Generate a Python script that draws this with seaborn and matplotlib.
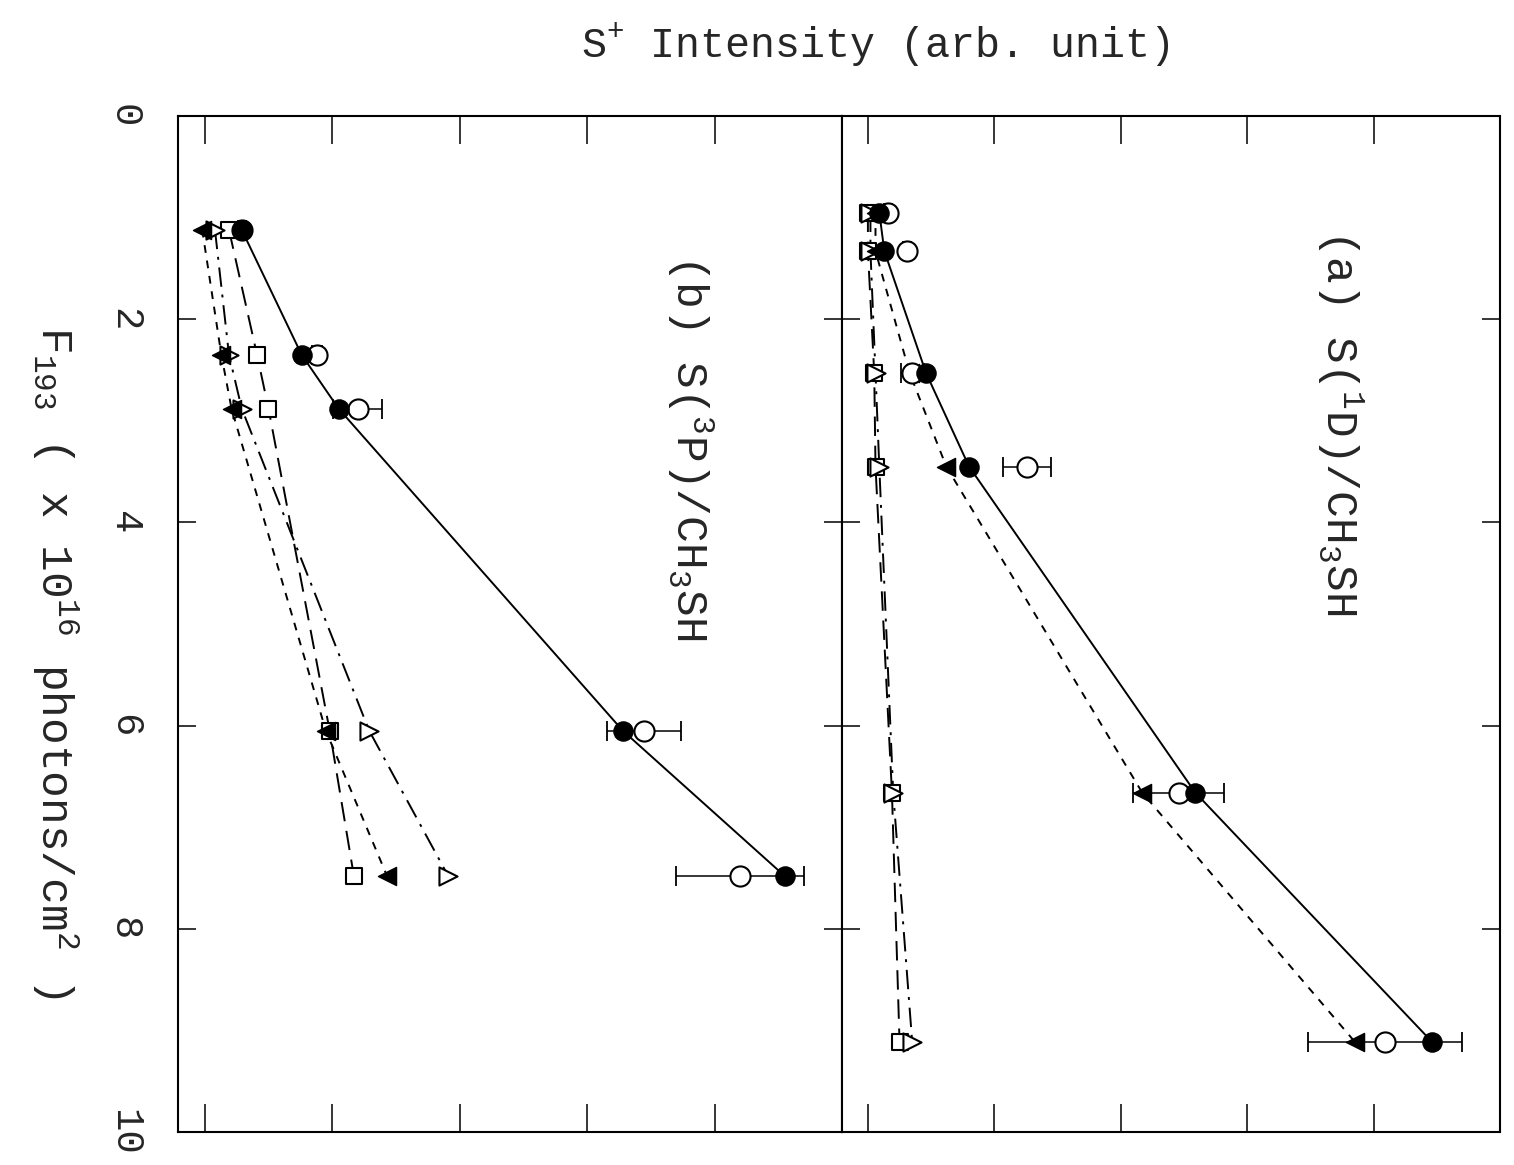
import numpy as np
import matplotlib
matplotlib.use("Agg")
import matplotlib.pyplot as plt
import seaborn as sns

# ---- data -------------------------------------------------------------
# panel (a): S(1D) / CH3SH
F_a = [0.95, 1.33, 2.53, 3.45, 6.66, 9.11]
a_filled_circle = [0.09, 0.13, 0.46, 0.80, 2.59, 4.46]
a_open_circle = [0.16, 0.31, 0.35, 1.26, 2.46, 4.09]
a_open_circle_err = [0.03, 0.03, 0.09, 0.19, 0.36, 0.61]
a_filled_tri = [0.06, 0.06, 0.33, 0.62, 2.17, 3.85]
a_open_tri = [0.02, 0.02, 0.06, 0.09, 0.20, 0.35]
a_square = [0.00, 0.00, 0.05, 0.06, 0.19, 0.25]

# panel (b): S(3P) / CH3SH
F_b = [1.12, 2.35, 2.88, 6.05, 7.48]
b_filled_circle = [0.29, 0.76, 1.05, 3.28, 4.55]
b_open_circle = [0.29, 0.88, 1.20, 3.45, 4.20]
b_open_circle_err = [0.03, 0.04, 0.19, 0.29, 0.50]
b_filled_tri = [-0.02, 0.13, 0.21, 0.95, 1.43]
b_open_tri = [0.08, 0.19, 0.29, 1.29, 1.91]
b_square = [0.19, 0.41, 0.50, 0.98, 1.17]

F_ticks = [0, 2, 4, 6, 8, 10]
F_tick_labels = ["0", "2", "4", "6", "8", "10"]

title_text = r"S$^{+}$ Intensity (arb. unit)"
flux_label = r"F$_{193}$ ( x 10$^{16}$ photons/cm$^{2}$ )"
label_a = r"(a) S($^{1}$D)/CH$_{3}$SH"
label_b = r"(b) S($^{3}$P)/CH$_{3}$SH"

# ---- style ------------------------------------------------------------
sns.set_theme(style="ticks")
plt.rcParams["font.family"] = ["Liberation Mono", "DejaVu Sans"]
plt.rcParams["mathtext.fontset"] = "custom"
plt.rcParams["mathtext.rm"] = "Liberation Mono"
plt.rcParams["mathtext.it"] = "Liberation Mono"
plt.rcParams["mathtext.bf"] = "Liberation Mono:bold"
plt.rcParams["mathtext.default"] = "rm"
plt.rcParams["axes.linewidth"] = 1.5
plt.rcParams["axes.edgecolor"] = "black"

W, H = 1514, 1165
fig = plt.figure(figsize=(W / 100, H / 100), dpi=100)
fig.patch.set_facecolor("white")

top_px, bot_px = 116, 1132
y0 = 1 - bot_px / H
hh = (bot_px - top_px) / H
ax_b = fig.add_axes([178 / W, y0, (842 - 178) / W, hh])
ax_a = fig.add_axes([842 / W, y0, (1500 - 842) / W, hh])

LW = 1.4
SOLID = "-"
SHORT_DASH = (0, (4, 4))
LONG_DASH = (0, (10, 5))
DASH_DOT = (0, (10, 4, 1.5, 4))


def draw_line(ax, x, y, ls):
    sns.lineplot(x=x, y=y, ax=ax, sort=False, estimator=None, color="black",
                 lw=LW, zorder=1)
    ax.lines[-1].set_linestyle(ls)


def draw_panel(ax, F, fc, oc, oc_err, ft, ot, sq, xlim):
    draw_line(ax, fc, F, SOLID)
    draw_line(ax, ft, F, SHORT_DASH)
    draw_line(ax, ot, F, DASH_DOT)
    draw_line(ax, sq, F, LONG_DASH)

    ax.errorbar(oc, F, xerr=oc_err, fmt="none", ecolor="black",
                elinewidth=1.1, capsize=7, capthick=1.3, zorder=2)

    sns.scatterplot(x=sq, y=F, ax=ax, marker="s", s=130, facecolor="white",
                    edgecolor="black", linewidth=1.5, zorder=3)
    sns.scatterplot(x=ot, y=F, ax=ax, marker=">", s=170, facecolor="white",
                    edgecolor="black", linewidth=1.5, zorder=3)
    sns.scatterplot(x=ft, y=F, ax=ax, marker="<", s=170, color="black",
                    edgecolor="black", linewidth=1.0, zorder=4)
    sns.scatterplot(x=oc, y=F, ax=ax, marker="o", s=210, facecolor="white",
                    edgecolor="black", linewidth=1.5, zorder=4)
    sns.scatterplot(x=fc, y=F, ax=ax, marker="o", s=190, color="black",
                    edgecolor="black", linewidth=1.0, zorder=5)

    ax.set_xlim(*xlim)
    ax.set_ylim(10, 0)
    ax.set_xticks(range(0, 6))
    ax.set_yticks(F_ticks)
    ax.set_xlabel("")
    ax.set_ylabel("")
    ax.tick_params(axis="x", direction="in", length=20, width=1.3,
                   top=True, bottom=True, labelbottom=False, labeltop=False)
    ax.tick_params(axis="y", direction="in", length=13, width=1.3,
                   left=True, right=True, labelleft=False, labelright=False)
    for s in ax.spines.values():
        s.set_linewidth(1.5)
        s.set_color("black")


draw_panel(ax_b, F_b, b_filled_circle, b_open_circle, b_open_circle_err,
           b_filled_tri, b_open_tri, b_square, (-0.21, 4.94))
draw_panel(ax_a, F_a, a_filled_circle, a_open_circle, a_open_circle_err,
           a_filled_tri, a_open_tri, a_square, (-0.205, 4.98))

# flux tick labels, turned with the rest of the figure
ax_b.tick_params(axis="y", labelleft=True, pad=26, labelsize=28)
ax_b.set_yticklabels(F_tick_labels, rotation=-90, va="center", ha="right")

fig.text(875 / W, 1 - 45 / H, title_text, fontsize=30, ha="center",
         va="center")
fig.text(55 / W, 1 - 662 / H, flux_label, fontsize=32, rotation=-90,
         ha="center", va="center")
fig.text(690 / W, 1 - 447 / H, label_b, fontsize=32, rotation=-90,
         ha="center", va="center")
fig.text(1340 / W, 1 - 422 / H, label_a, fontsize=32, rotation=-90,
         ha="center", va="center")

fig.savefig("out.png", dpi=100, facecolor="white")
